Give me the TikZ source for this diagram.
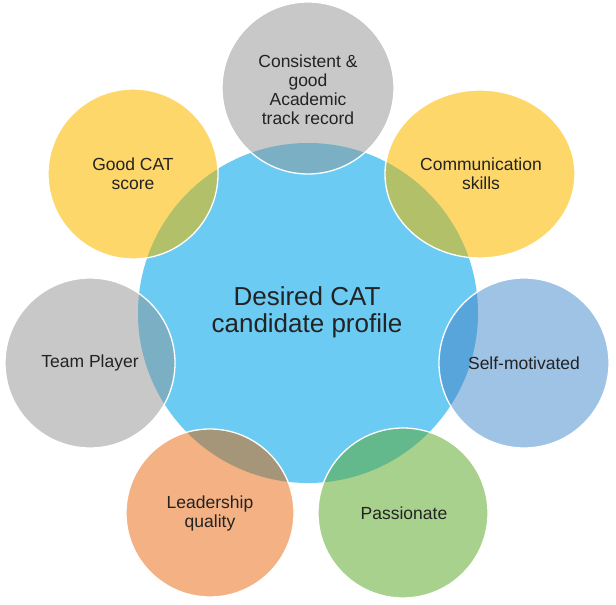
\documentclass[tikz,border=0pt]{standalone}
\usepackage{fontspec}
\setmainfont{Liberation Sans}
\definecolor{hubblue}{RGB}{108,203,242}
\definecolor{petalgray}{RGB}{200,200,200}
\definecolor{petalgold}{RGB}{254,215,106}
\definecolor{petalblue}{RGB}{158,195,229}
\definecolor{petalgreen}{RGB}{169,209,142}
\definecolor{petalorange}{RGB}{244,177,131}
\definecolor{mixgray}{RGB}{123,175,195}
\definecolor{mixgold}{RGB}{178,192,106}
\definecolor{mixblue}{RGB}{88,165,220}
\definecolor{mixgreen}{RGB}{100,185,140}
\definecolor{mixorange}{RGB}{165,150,122}
\definecolor{labelgray}{RGB}{35,35,35}

\begin{document}
\begin{tikzpicture}[x=1pt, y=1pt, rim/.style={draw=white, line width=1.3pt},
    every node/.style={align=center, text=labelgray, font=\fontsize{17.5}{19}\selectfont}]
    \useasboundingbox (0,0) rectangle (616,605);
    \fill[hubblue] (308,292) circle (170pt);
    \fill[petalgray] (308,517) circle (86pt);
    \fill[petalgold] (133,431) circle (85pt);
    \fill[petalgold] (480,431) ellipse [x radius=95pt, y radius=84pt];
    \fill[petalgray] (90,242) circle (85pt);
    \fill[petalblue] (524,242) circle (85pt);
    \fill[petalorange] (210,92) circle (84pt);
    \fill[petalgreen] (403,92) circle (85pt);
    % overlaps with the centre
    \begin{scope}
        \clip (308,292) circle (170pt);
        \fill[mixgray] (308,517) circle (86pt);
        \fill[mixgold] (133,431) circle (85pt);
        \fill[mixgold] (480,431) ellipse [x radius=95pt, y radius=84pt];
        \fill[mixgray] (90,242) circle (85pt);
        \fill[mixblue] (524,242) circle (85pt);
        \fill[mixorange] (210,92) circle (84pt);
        \fill[mixgreen] (403,92) circle (85pt);
    \end{scope}
    \draw[rim] (308,517) circle (86pt);
    \draw[rim] (133,431) circle (85pt);
    \draw[rim] (480,431) ellipse [x radius=95pt, y radius=84pt];
    \draw[rim] (90,242) circle (85pt);
    \draw[rim] (524,242) circle (85pt);
    \draw[rim] (210,92) circle (84pt);
    \draw[rim] (403,92) circle (85pt);
    \node[font=\fontsize{26}{27}\selectfont] at (307,293) (profile) {Desired CAT\\candidate profile};
    \node at (308,515) (academic) {Consistent \&\\good\\Academic\\track record};
    \node at (133,431) (catscore) {Good CAT\\score};
    \node at (481,431) (communication) {Communication\\skills};
    \node at (90,242) (team) {Team Player};
    \node at (524,242) (motivated) {Self-motivated};
    \node at (210,92) (leadership) {Leadership\\quality};
    \node at (404,92) (passionate) {Passionate};
\end{tikzpicture}
\end{document}
